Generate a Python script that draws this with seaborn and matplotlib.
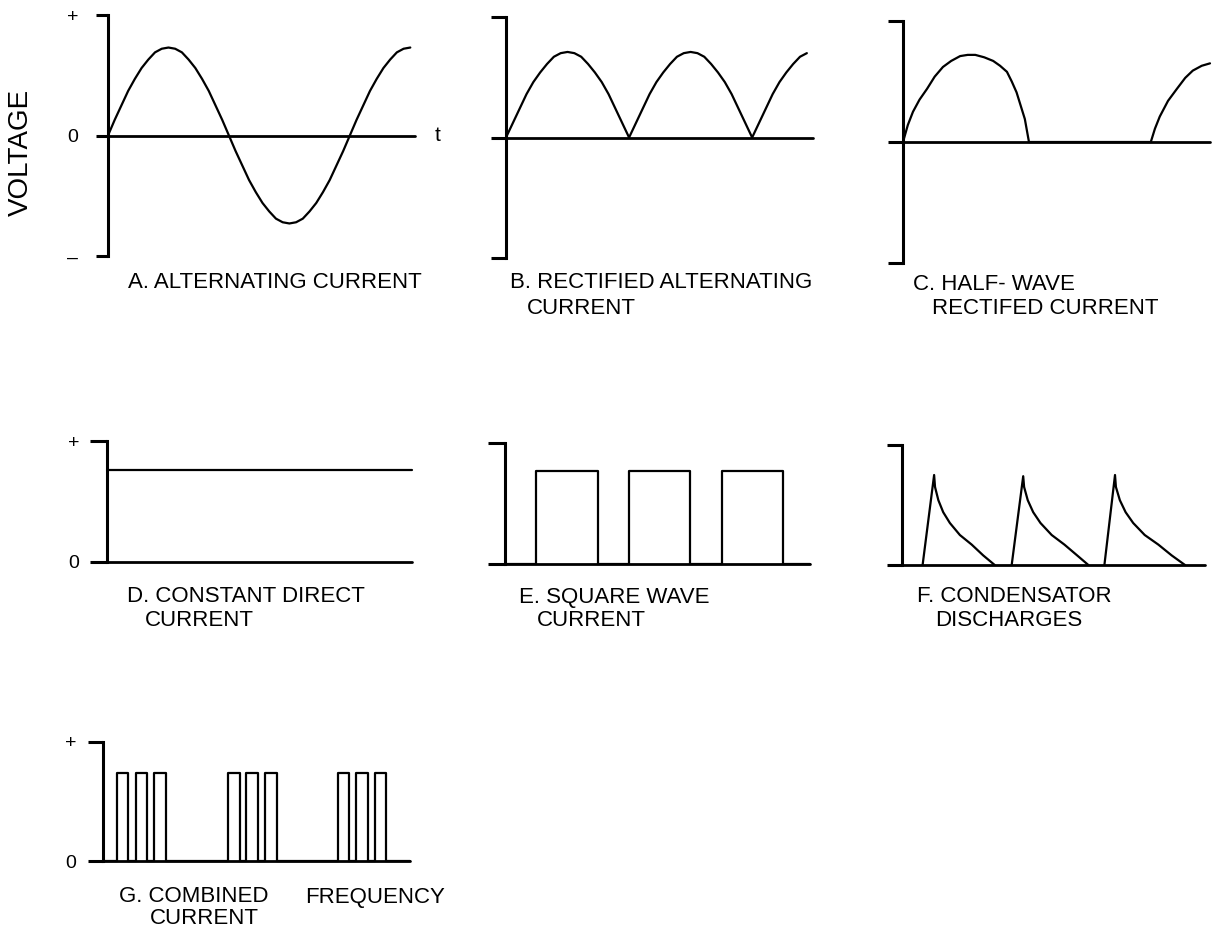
import matplotlib
matplotlib.use("Agg")
import seaborn as sns
import matplotlib.pyplot as plt

# ---- data ----
# voltage is relative to the "+" mark (=1); time is phase in degrees (A-C)
# or arbitrary time units 0..10 (D-G)

# A. alternating current
ac_t = list(range(0, 451, 10))
ac_v = [0, .13, .25, .37, .47, .56, .63, .69, .72, .73, .72, .69, .63, .56, .47, .37, .25, .13, 0,
        -.13, -.25, -.37, -.47, -.56, -.63, -.69, -.72, -.73, -.72, -.69, -.63, -.56, -.47,
        -.37, -.25, -.13, 0,
        .13, .25, .37, .47, .56, .63, .69, .72, .73]

# B. rectified alternating current
rect_t = list(range(0, 441, 10))
rect_v = [0, .12, .24, .36, .46, .54, .61, .67, .70, .71, .70, .67, .61, .54, .46, .36, .24, .12, 0,
          .12, .24, .36, .46, .54, .61, .67, .70, .71, .70, .67, .61, .54, .46, .36, .24, .12, 0,
          .12, .24, .36, .46, .54, .61, .67, .70]

# C. half-wave rectified current
hw_t = [0, 7, 14.5, 24, 35, 46, 58, 70, 83, 94, 105, 118, 131, 141, 151, 158, 165, 171, 177, 183,
        360, 366, 373, 385, 398, 410, 421, 434, 446]
hw_v = [0, .14, .25, .35, .44, .54, .62, .67, .71, .72, .72, .70, .67, .63, .58, .50, .41, .30, .19, 0,
        0, .11, .21, .34, .44, .53, .59, .63, .65]

# D. constant direct current
dc_t = [0, 10]
dc_level = 0.76

# E. square wave current
sq_start = [1.0, 4.05, 7.1]
sq_end = [3.05, 6.05, 9.1]
sq_level = 0.77

# F. condensator discharges
cd_rise = [0.68, 3.62, 6.68]
cd_peak_t = [1.06, 4.0, 7.03]
cd_peak_v = [0.75, 0.74, 0.75]
cd_decay_t = [[1.09, 1.20, 1.36, 1.58, 1.91, 2.30, 2.68, 3.06],
              [4.03, 4.15, 4.33, 4.57, 4.94, 5.36, 5.78, 6.15],
              [7.06, 7.19, 7.38, 7.63, 8.01, 8.46, 8.90, 9.34]]
cd_decay_v = [.65, .54, .44, .35, .25, .17, .08, 0]

# G. combined frequency current
cf_start = [.46, 1.07, 1.66, 4.07, 4.66, 5.28, 7.65, 8.24, 8.86]
cf_end = [.81, 1.43, 2.05, 4.46, 5.05, 5.67, 8.01, 8.63, 9.22]
cf_level = 0.74

# ---- layout (pixel boxes: left, top, right, bottom) ----
W, H = 1213, 936
sns.set_style("white")
plt.rcParams["font.family"] = ["Liberation Sans", "DejaVu Sans"]
plt.rcParams["text.color"] = "black"
plt.rcParams["ytick.color"] = "black"
plt.rcParams["ytick.labelcolor"] = "black"

fig = plt.figure(figsize=(W / 100, H / 100), dpi=100)
fig.patch.set_facecolor("white")

AXIS_LW = 2.2
CURVE_LW = 1.6


def panel(box, xmax, ticks, labels, ticklen=11, pad=8):
    l, t, r, b = box
    ax = fig.add_axes([l / W, 1 - b / H, (r - l) / W, (b - t) / H])
    ax.patch.set_visible(False)
    ax.set_xlim(0, xmax)
    ax.set_ylim(ticks[0], ticks[-1])
    for s in ["top", "right", "bottom"]:
        ax.spines[s].set_visible(False)
    ax.spines["left"].set_linewidth(AXIS_LW)
    ax.spines["left"].set_color("black")
    ax.set_xticks([])
    ax.set_yticks(ticks)
    ax.set_yticklabels(labels)
    ax.tick_params(axis="y", direction="out", length=ticklen, width=AXIS_LW,
                   color="black", pad=pad, labelsize=14, left=True,
                   labelcolor="black")
    ax.axhline(0, color="black", lw=2.0, clip_on=False)
    return ax


def trace(ax, x, y):
    sns.lineplot(x=x, y=y, ax=ax, sort=False, estimator=None,
                 color="black", lw=CURVE_LW)
    ax.lines[-1].set_clip_on(False)
    ax.set_xlabel("")
    ax.set_ylabel("")


def pulses(starts, ends, level, t_end):
    xs, ys = [0], [0]
    for s, e in zip(starts, ends):
        xs += [s, s, e, e]
        ys += [0, level, level, 0]
    xs.append(t_end)
    ys.append(0)
    return xs, ys


# A
ax = panel((108, 15, 415, 256), 457, [-1, 0, 1], ["–", "0", "+"], ticklen=9, pad=12.5)
trace(ax, ac_t, ac_v)
ax.text(1.072, 0, "t", transform=ax.get_yaxis_transform(),
        ha="center", va="center", fontsize=15)

# B
ax = panel((506, 17, 813, 258), 449, [-1, 0, 1], ["", "", ""])
trace(ax, rect_t, rect_v)

# C
ax = panel((903, 21, 1210, 263), 446, [-1, 0, 1], ["", "", ""])
trace(ax, hw_t, hw_v)

# D
ax = panel((107, 441, 412, 562), 10, [0, 1], ["0", "+"], ticklen=12)
trace(ax, dc_t, [dc_level] * len(dc_t))

# E
ax = panel((505, 443, 810, 564), 10, [0, 1], ["", ""], ticklen=12)
x, y = pulses(sq_start, sq_end, sq_level, 10)
trace(ax, x, y)

# F
ax = panel((902, 445, 1205, 565), 10, [0, 1], ["", ""])
for i in range(len(cd_rise)):
    trace(ax, [cd_rise[i], cd_peak_t[i]] + cd_decay_t[i],
          [0, cd_peak_v[i]] + cd_decay_v)

# G
ax = panel((103, 742, 410, 861), 10, [0, 1], ["0", "+"])
x, y = pulses(cf_start, cf_end, cf_level, 10)
trace(ax, x, y)

# ---- captions ----
captions = [
    ("A. ALTERNATING CURRENT", 128, 283),
    ("B. RECTIFIED ALTERNATING", 510, 283),
    ("CURRENT", 527, 308),
    ("C. HALF- WAVE", 913, 285),
    ("RECTIFED CURRENT", 932, 309),
    ("D. CONSTANT DIRECT", 127, 597),
    ("CURRENT", 145, 620),
    ("E. SQUARE WAVE", 519, 597),
    ("CURRENT", 537, 620),
    ("F. CONDENSATOR", 917, 597),
    ("DISCHARGES", 935, 620),
    ("G. COMBINED", 119, 897),
    ("FREQUENCY", 305, 897),
    ("CURRENT", 150, 919),
]
for s, x, y in captions:
    fig.text(x / W, 1 - y / H, s, ha="left", va="center", fontsize=16)

fig.text(21 / W, 1 - 152 / H, "VOLTAGE", rotation=90, ha="center",
         va="center", fontsize=20)

fig.savefig("out.png", dpi=100, facecolor="white")
